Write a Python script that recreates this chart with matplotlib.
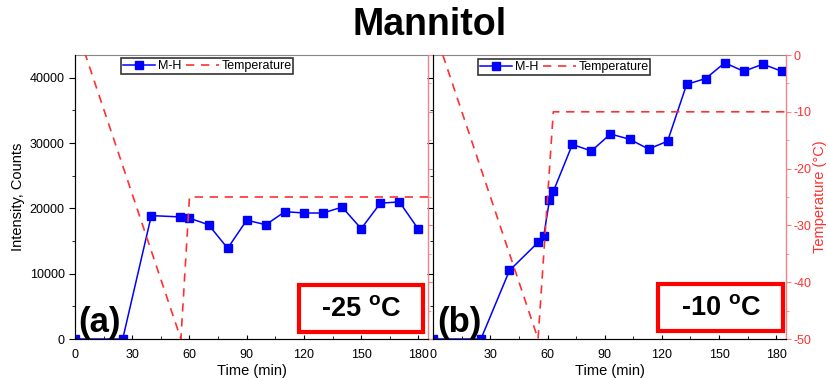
import matplotlib.pyplot as plt
from matplotlib.patches import Rectangle
from matplotlib.ticker import MultipleLocator

plt.rcParams['font.family'] = ['Liberation Sans', 'DejaVu Sans']
plt.rcParams['axes.unicode_minus'] = False

# panel (a), -25 C
time_a = [0, 25, 40, 55, 60, 70, 80, 90, 100, 110, 120, 130, 140, 150, 160, 170, 180]
mh_a = [0, 0, 18900, 18700, 18500, 17500, 13900, 18200, 17500, 19500, 19300, 19300,
        20200, 16900, 20800, 21000, 16800]
temp_t_a = [0, 55.5, 60, 185]
temp_a = [5.5, -50, -25, -25]

# panel (b), -10 C
time_b = [0, 25, 40, 55, 58, 61, 63, 73, 83, 93, 103, 113, 123, 133, 143, 153, 163, 173, 183]
mh_b = [0, 0, 10500, 14800, 15800, 21300, 22600, 29800, 28800, 31400, 30600, 29100,
        30300, 39000, 39900, 42300, 41000, 42100, 41000]
temp_t_b = [0, 55, 63, 185]
temp_b = [5, -50, -10, -10]

xticks = [0, 30, 60, 90, 120, 150, 180]
red = '#ff3030'
spine_red = '#ff8080'

fig = plt.figure(figsize=(8.29, 3.79), dpi=100)
ax1 = fig.add_axes([75/829, 1-339/379, 353/829, 284/379])
ax2 = fig.add_axes([433.3/829, 1-339/379, 352.4/829, 284/379])

panels = [(ax1, time_a, mh_a, temp_t_a, temp_a, '(a)', '-25 $\\mathregular{^{o}}$C',
           (299, 285, 124, 47), (121, 58)),
          (ax2, time_b, mh_b, temp_t_b, temp_b, '(b)', '-10 $\\mathregular{^{o}}$C',
           (658.3, 284.3, 125, 47), (478, 59))]

for i, (ax, t, mh, tt, temp, tag, label, box, legpos) in enumerate(panels):
    l1, = ax.plot(t, mh, '-s', color='blue', lw=1.1, ms=5.5, label='M-H')
    ax.set_xlim(0, 185)
    ax.set_ylim(0, 43500)
    ax.set_xticks(xticks)
    ax.xaxis.set_minor_locator(MultipleLocator(15))
    ax.yaxis.set_major_locator(MultipleLocator(10000))
    ax.yaxis.set_minor_locator(MultipleLocator(5000))
    ax.tick_params(axis='x', which='both', direction='in', labelsize=9, length=3, pad=7)
    ax.tick_params(axis='x', which='minor', length=2)
    ax.tick_params(axis='y', which='major', direction='out', labelsize=9, length=4)
    ax.tick_params(axis='y', which='minor', direction='out', length=2)
    ax.set_xlabel('Time (min)', fontsize=10.5, labelpad=2)
    for s in ['left', 'bottom']:
        ax.spines[s].set_color('#333333')
    ax.spines['top'].set_color('#888888')

    tw = ax.twinx()
    l2, = tw.plot(tt, temp, color=red, lw=1.2, ls=(0, (5, 4)), label='Temperature')
    tw.set_ylim(-50, 0)
    tw.yaxis.set_major_locator(MultipleLocator(10))
    tw.yaxis.set_minor_locator(MultipleLocator(5))
    tw.spines['right'].set_color(spine_red)
    tw.spines['top'].set_visible(False)
    tw.tick_params(axis='y', which='both', colors=spine_red, labelcolor=red,
                   labelsize=9, pad=2)
    tw.tick_params(axis='y', which='minor', length=2)

    if i == 0:
        ax.set_ylabel('Intensity, Counts', fontsize=10.5, labelpad=3)
        tw.set_yticklabels([])
    else:
        ax.set_yticklabels([])
        tw.set_ylabel('Temperature (°C)', fontsize=10.5, color=red, labelpad=1)

    leg = tw.legend([l1, l2], ['M-H', 'Temperature'], ncol=2, fontsize=9,
                    loc='upper left', bbox_to_anchor=(legpos[0]/829, 1-legpos[1]/379),
                    bbox_transform=fig.transFigure, frameon=True, fancybox=False,
                    handlelength=2.6, handletextpad=0.2, columnspacing=0.4,
                    borderpad=0.15, borderaxespad=0)
    leg.get_frame().set_edgecolor('black')
    leg.get_frame().set_linewidth(1.2)

    ax.text(0.01, 0.0, tag, transform=ax.transAxes, fontsize=25, fontweight='bold',
            ha='left', va='bottom')

    bx, by, bw, bh = box
    fig.patches.append(Rectangle((bx/829, 1-(by+bh)/379), bw/829, bh/379,
                                 transform=fig.transFigure, fill=False,
                                 edgecolor='#ff0000', lw=3, zorder=5))
    fig.text((bx+bw/2)/829, 1-(by+bh/2)/379, label, fontsize=19.5, fontweight='bold',
             ha='center', va='center')

fig.text(430/829, 1-25/379, 'Mannitol', fontsize=27, fontweight='bold',
         ha='center', va='center')

fig.savefig('out.png', dpi=100)
